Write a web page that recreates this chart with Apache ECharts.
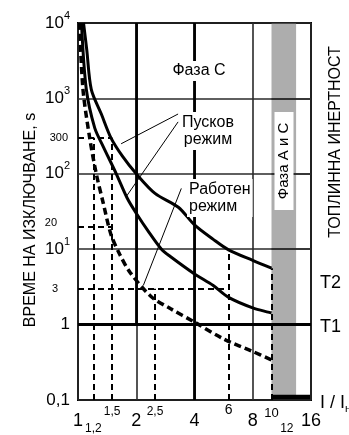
<!DOCTYPE html>
<html><head><meta charset="utf-8">
<script src="https://cdn.jsdelivr.net/npm/echarts@6/dist/echarts.min.js"></script>
<style>html,body{margin:0;padding:0;background:#fff}#c{width:349px;height:435px}</style>
</head><body><div id="c"></div>
<script>
// ---- tick labels ----
const xTicks  = [1, 1.2, 1.5, 2, 2.5, 4, 6, 8, 10, 12, 16];
const xLabels = ['1', '1,2', '1,5', '2', '2,5', '4', '6', '8', '10', '12', '16'];
const yTicks  = [0.1, 1, 10, 100, 1000, 10000];
const yLabels = ['0,1', '1', '10^1', '10^2', '10^3', '10^4'];
const yExtraTicks  = [300, 20, 3];
const yExtraLabels = ['300', '20', '3'];

// ---- curves (I/In, time s) ----
const startHighCurrent = [1.068, 1.11, 1.171, 1.32, 1.48, 1.7, 2, 2.5, 3.3, 4, 5, 6, 8, 10];     // T2
const startHighTime    = [10000, 4400, 1320, 620, 300, 170, 100, 55, 36, 21, 13.5, 9.8, 7.1, 5.6];
const startLowCurrent  = [1.042, 1.104, 1.22, 1.35, 1.577, 1.8, 2, 2.3, 2.7, 3, 4, 5, 6, 8, 10]; // T1
const startLowTime     = [10000, 1320, 406, 230, 100, 47, 30, 17.5, 10, 8, 4.7, 3.3, 2.3, 1.67, 1.43];
const workCurrent      = [1.018, 1.061, 1.149, 1.243, 1.35, 1.48, 1.642, 1.857, 2.385, 3, 4.02, 5.69, 8, 10];
const workTime         = [10000, 1320, 300, 100, 41, 15.7, 8.57, 4.93, 2.36, 1.63, 1.07, 0.64, 0.44, 0.34];

// ---- dashed guide lines ----
const guideVertical   = [[1.2, 300], [1.5, 300], [2.5, 3], [6, 10], [10, 5.6]]; // [I, top time]
const guideHorizontal = [[300, 1.5], [20, 1.5], [3, 6]];                        // [time, right I]

// ---- heavier grid lines / grid lines over the band ----
const boldVertical   = [[2, 1, 10000], [4, 0.1, 10000]]; // [I, from time, to time]
const boldHorizontal = [1];                              // time
const bandGridTimes  = [10, 100, 1000];                  // time

// ---- leader lines [[from],[to]] ----
const leaderLines = [
  [[3.29, 621], [1.67, 250]],
  [[3.29, 488], [1.777, 50]],
  [[3.42, 64], [2.175, 3.3]]
];

// ---- phase band ----
const bandRange = [10, 13.4];
const bottomBar = [[10, 0.1], [16, 0.117]];

const FONT = '"Liberation Sans", Arial, Helvetica, sans-serif';
const pairs = (xs, ys) => xs.map((x, i) => [x, ys[i]]);
const pick = (ticks, labels, v) => {
  for (let i = 0; i < ticks.length; i++) if (Math.abs(v - ticks[i]) < 1e-6 * ticks[i]) return labels[i];
  return '';
};
const xStyle = {'1': 'b', '2': 'b', '4': 'b', '8': 'b', '16': 'b', '6': 'm', '10': 't', '1,2': 'l', '12': 'l'};

const chart = echarts.init(document.getElementById('c'), null, {renderer: 'canvas'});

const option = {
  animation: false,
  backgroundColor: '#fff',
  textStyle: {fontFamily: FONT, color: '#000'},
  grid: {left: 78, right: 38, top: 23, bottom: 31, show: true, borderColor: '#000', borderWidth: 2,
    backgroundColor: 'transparent'},
  xAxis: {type: 'log', logBase: 2, min: 1, max: 16, z: 2,
    axisLine: {show: false}, axisTick: {show: false},
    splitLine: {show: true, lineStyle: {color: '#2a2a2a', width: 1.6}},
    axisLabel: {customValues: xTicks, margin: 1, color: '#000', fontFamily: FONT,
      formatter: v => { const t = pick(xTicks, xLabels, v); return '{' + (xStyle[t] || 's') + '|' + t + '}'; },
      rich: {
        b: {fontSize: 18, padding: [11, 0, 0, 0], fontFamily: FONT},
        m: {fontSize: 14, padding: [2, 0, 0, 0], fontFamily: FONT},
        t: {fontSize: 13, padding: [6, 0, 0, 0], fontFamily: FONT},
        s: {fontSize: 12, padding: [5, 0, 0, 0], fontFamily: FONT},
        l: {fontSize: 12, padding: [22, 0, 0, 0], fontFamily: FONT}
      }}},
  yAxis: {type: 'log', logBase: 10, min: 0.1, max: 10000, z: 2,
    axisLine: {show: false}, axisTick: {show: false},
    splitLine: {show: true, lineStyle: {color: '#2a2a2a', width: 1.6}},
    axisLabel: {customValues: yTicks, margin: 8, color: '#000', fontFamily: FONT,
      formatter: v => { const t = pick(yTicks, yLabels, v);
        if (t.indexOf('^') > 0) { const p = t.split('^'); return '{m|' + p[0] + '}{s|' + p[1] + '}'; }
        return '{p|' + t + '}'; },
      rich: {m: {fontSize: 17, lineHeight: 26, fontFamily: FONT},
             p: {fontSize: 17, lineHeight: 26, fontFamily: FONT},
             s: {fontSize: 11, lineHeight: 12, verticalAlign: 'top', fontFamily: FONT}}}},
  series: [
    {name: 'band', type: 'line', data: [],
      markArea: {silent: true, z: 1, itemStyle: {color: '#adadad'},
        data: [
          [{xAxis: bandRange[0]}, {xAxis: bandRange[1]}],
          [{coord: bottomBar[0], itemStyle: {color: '#000'}}, {coord: bottomBar[1]}]
        ]}},
    {name: 'bandGrid', type: 'line', data: [],
      markLine: {silent: true, z: 2, symbol: ['none', 'none'], label: {show: false},
        lineStyle: {color: '#2a2a2a', width: 1.6, type: 'solid'},
        data: bandGridTimes.map(t => [{coord: [bandRange[0], t]}, {coord: [16, t]}])}},
    {name: 'boldGrid', type: 'line', data: [],
      markLine: {silent: true, z: 2, symbol: ['none', 'none'], label: {show: false},
        lineStyle: {color: '#000', width: 2.8, type: 'solid'},
        data: boldVertical.map(g => [{coord: [g[0], g[1]]}, {coord: [g[0], g[2]]}])
          .concat(boldHorizontal.map(t => [{coord: [1, t]}, {coord: [16, t]}]))}},
    {name: 'T2', type: 'line', z: 3, data: pairs(startHighCurrent, startHighTime), showSymbol: false,
      smooth: 0.3, lineStyle: {color: '#000', width: 3}},
    {name: 'T1', type: 'line', z: 3, data: pairs(startLowCurrent, startLowTime), showSymbol: false,
      smooth: 0.3, lineStyle: {color: '#000', width: 3}},
    {name: 'work', type: 'line', z: 3, data: pairs(workCurrent, workTime), showSymbol: false,
      smooth: 0.3, lineStyle: {color: '#000', width: 3.5, type: [7, 4]}},
    {name: 'guides', type: 'line', data: [],
      markLine: {silent: true, symbol: ['none', 'none'], label: {show: false},
        lineStyle: {color: '#000', width: 2, type: [6, 4]},
        data: guideVertical.map(g => [{coord: [g[0], 0.1]}, {coord: [g[0], g[1]]}])
          .concat(guideHorizontal.map(g => [{coord: [1, g[0]]}, {coord: [g[1], g[0]]}]))}},
    {name: 'leaders', type: 'line', data: [],
      markLine: {silent: true, symbol: ['none', 'none'], label: {show: false},
        lineStyle: {color: '#000', width: 1, type: 'solid'},
        data: leaderLines.map(l => [{coord: l[0]}, {coord: l[1]}])}}
  ]
};
chart.setOption(option);

const toPx = (x, y) => chart.convertToPixel({xAxisIndex: 0, yAxisIndex: 0}, [x, y]);
const p0 = toPx(bandRange[0], 1000);
const boxX = p0[0] + 3, boxW = 19, boxTop = 112, boxH = 98;

// extra tick labels on the time axis (right edge / vertical nudge per label)
const extraRight = [68, 57, 58], extraDy = [0, -4, 0];
const extraGraphics = yExtraTicks.map((v, i) => ({type: 'text', z: 100,
  x: extraRight[i], y: toPx(1, v)[1] + extraDy[i],
  style: {text: yExtraLabels[i], fontSize: 11, fontFamily: FONT, fill: '#000', align: 'right', verticalAlign: 'middle'}}));

chart.setOption({graphic: extraGraphics.concat([
  {type: 'rect', z: 90, shape: {x: boxX, y: boxTop, width: boxW, height: boxH}, style: {fill: '#fff'}},
  {type: 'text', z: 100, x: boxX + boxW / 2, y: boxTop + boxH / 2, rotation: Math.PI / 2,
    style: {text: 'Фаза А и С', fontSize: 15, fontFamily: FONT, fill: '#000', align: 'center', verticalAlign: 'middle'}},
  {type: 'text', z: 100, x: 199, y: 71,
    style: {text: 'Фаза С', fontSize: 16, fontFamily: FONT, fill: '#000', align: 'center', verticalAlign: 'middle',
      backgroundColor: '#fff', padding: [2, 2]}},
  {type: 'text', z: 100, x: 208, y: 131,
    style: {text: 'Пусков\nрежим', fontSize: 16, lineHeight: 17, fontFamily: FONT, fill: '#000', align: 'center',
      verticalAlign: 'middle', backgroundColor: '#fff', padding: [2, 2]}},
  {type: 'text', z: 100, x: 187, y: 198,
    style: {text: 'Работен\nрежим', fontSize: 16, lineHeight: 17, fontFamily: FONT, fill: '#000', align: 'left',
      verticalAlign: 'middle', backgroundColor: '#fff', padding: [2, 2]}},
  {type: 'text', z: 100, x: 31, y: 220, rotation: Math.PI / 2,
    style: {text: 'ВРЕМЕ НА ИЗКЛЮЧВАНЕ, s', fontSize: 16, fontFamily: FONT, fill: '#000', align: 'center', verticalAlign: 'middle'}},
  {type: 'text', z: 100, x: 336, y: 142, rotation: Math.PI / 2,
    style: {text: 'ТОПЛИННА ИНЕРТНОСТ', fontSize: 16, fontFamily: FONT, fill: '#000', align: 'center', verticalAlign: 'middle'}},
  {type: 'text', z: 100, x: 320, y: 283,
    style: {text: 'T2', fontSize: 18, fontFamily: FONT, fill: '#000', align: 'left', verticalAlign: 'middle'}},
  {type: 'text', z: 100, x: 320, y: 327,
    style: {text: 'T1', fontSize: 18, fontFamily: FONT, fill: '#000', align: 'left', verticalAlign: 'middle'}},
  {type: 'text', z: 100, x: 320, y: 403,
    style: {text: '{a|I / I}{b|н}', fontFamily: FONT, fill: '#000', align: 'left', verticalAlign: 'middle',
      rich: {a: {fontSize: 18, fontFamily: FONT, lineHeight: 22}, b: {fontSize: 11, fontFamily: FONT, verticalAlign: 'bottom', lineHeight: 14}}}}
])});
</script>
</body></html>
